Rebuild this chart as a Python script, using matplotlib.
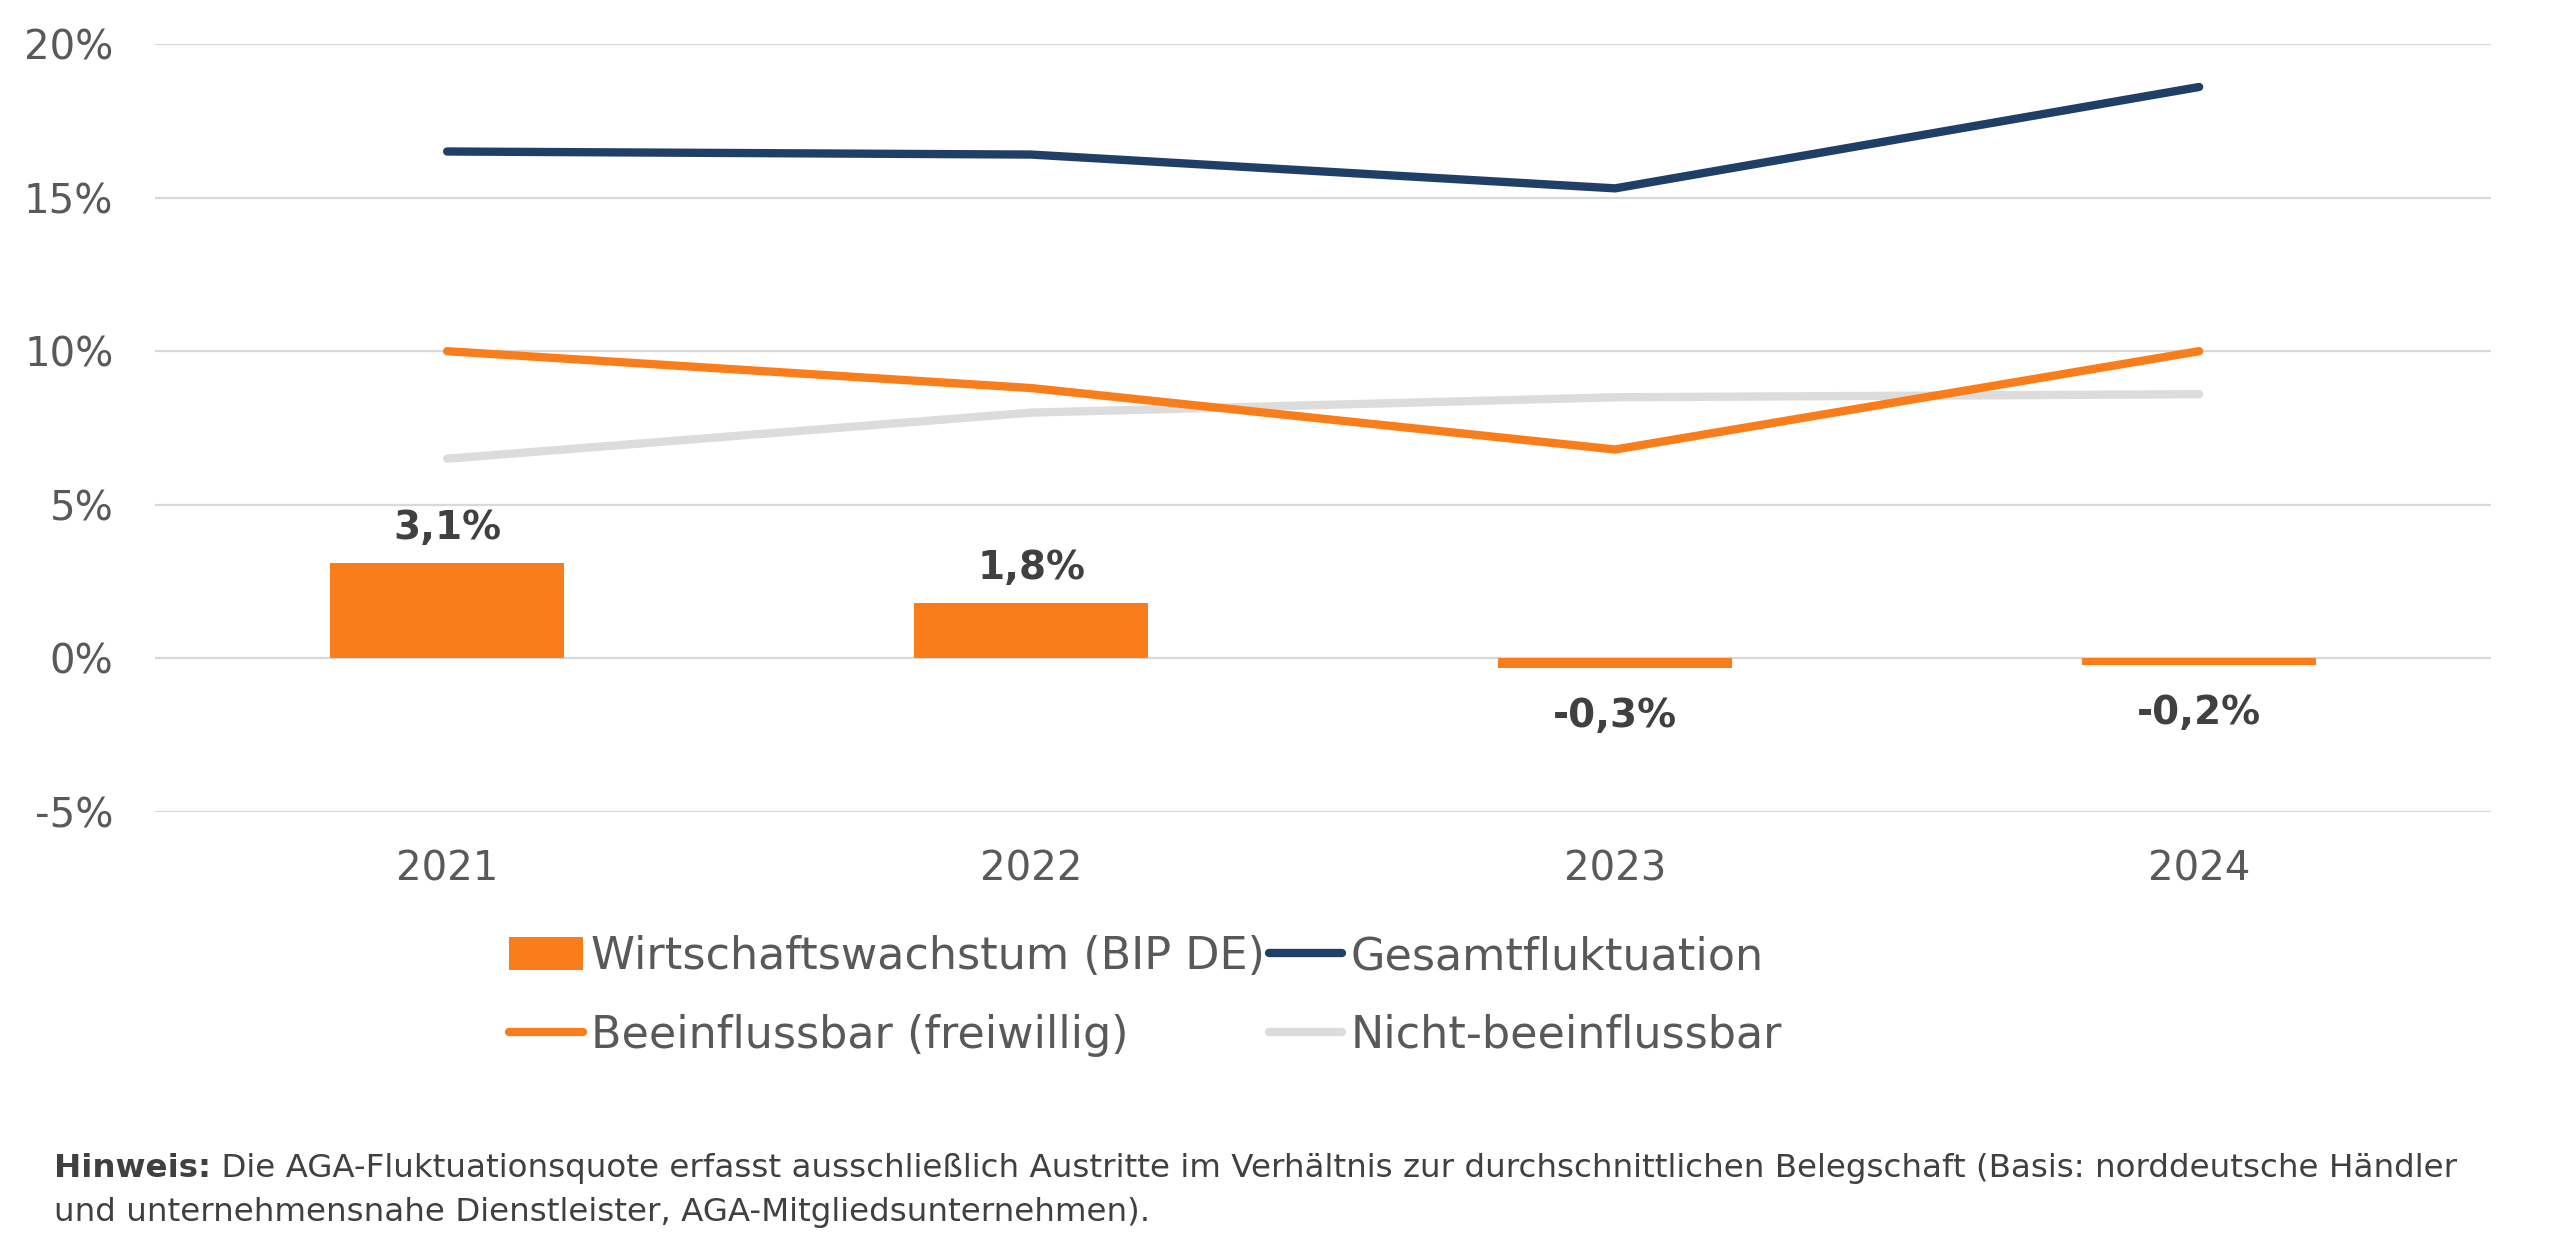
import matplotlib
matplotlib.use("Agg")
import matplotlib.pyplot as plt
from matplotlib.patches import Patch
from matplotlib.lines import Line2D

plt.rcParams['font.family'] = ['DejaVu Sans']

years = ["2021", "2022", "2023", "2024"]
bip = [3.1, 1.8, -0.3, -0.2]
bip_labels = ["3,1%", "1,8%", "-0,3%", "-0,2%"]
gesamt = [16.5, 16.4, 15.3, 18.6]
beeinflussbar = [10.0, 8.8, 6.8, 10.0]
nicht_beeinflussbar = [6.5, 8.0, 8.5, 8.6]
yticks = [-5, 0, 5, 10, 15, 20]
ytick_labels = ["-5%", "0%", "5%", "10%", "15%", "20%"]

orange = "#F97E1B"
blue = "#203F66"
grey = "#DCDCDC"
text_grey = "#595959"
dark = "#404040"

fig = plt.figure(figsize=(25.6, 12.42), dpi=100)
ax = fig.add_axes([0.0606, 0.3462, 0.9125, 0.6184])

x = list(range(len(years)))
ax.bar(x, bip, width=0.4, color=orange, zorder=2)
ax.plot(x, nicht_beeinflussbar, color=grey, lw=6, solid_capstyle='round', zorder=3)
ax.plot(x, beeinflussbar, color=orange, lw=6, solid_capstyle='round', zorder=4)
ax.plot(x, gesamt, color=blue, lw=6, solid_capstyle='round', zorder=5)

# bar value labels
for i in range(len(bip)):
    if bip[i] >= 0:
        off = 25
    else:
        off = -35
    ax.annotate(bip_labels[i], (x[i], bip[i]), xytext=(0, off), textcoords='offset points',
                ha='center', va='center', fontsize=28, fontweight='bold', color=dark)

ax.set_xlim(-0.5, 3.5)
ax.set_ylim(-5, 20)
ax.set_yticks(yticks)
ax.set_yticklabels(ytick_labels)
ax.set_xticks(x)
ax.set_xticklabels(years)
ax.tick_params(axis='y', length=0, pad=30, labelsize=29, labelcolor=text_grey)
ax.tick_params(axis='x', length=0, pad=27, labelsize=29, labelcolor=text_grey)
ax.grid(axis='y', color="#D9D9D9", lw=1.6, zorder=0)
ax.set_axisbelow(True)
for s in ax.spines.values():
    s.set_visible(False)

handles = [
    Patch(facecolor=orange, edgecolor='none', label="Wirtschaftswachstum (BIP DE)"),
    Line2D([0], [0], color=orange, lw=6, solid_capstyle='round', label="Beeinflussbar (freiwillig)"),
    Line2D([0], [0], color=blue, lw=6, solid_capstyle='round', label="Gesamtfluktuation"),
    Line2D([0], [0], color=grey, lw=6, solid_capstyle='round', label="Nicht-beeinflussbar"),
]
leg = fig.legend(handles=handles, ncol=2, loc='upper left', bbox_to_anchor=(0.199, 0.247),
                 frameon=False, fontsize=32, handlelength=1.65, handleheight=0.75,
                 handletextpad=0.18, columnspacing=0.1, labelspacing=0.8,
                 borderpad=0, borderaxespad=0)
for t in leg.get_texts():
    t.set_color(text_grey)

# footnote, bold "Hinweis:" followed by regular text
t1 = fig.text(0.0212, 0.0595, "Hinweis:", fontsize=23.4, fontweight='bold', color=dark, va='center')
fig.canvas.draw()
bb = t1.get_window_extent()
x2 = bb.x1 / fig.bbox.width
fig.text(x2, 0.0595, " Die AGA-Fluktuationsquote erfasst ausschließlich Austritte im Verhältnis zur durchschnittlichen Belegschaft (Basis: norddeutsche Händler",
         fontsize=23.4, color=dark, va='center')
fig.text(0.0212, 0.024, "und unternehmensnahe Dienstleister, AGA-Mitgliedsunternehmen).",
         fontsize=23.4, color=dark, va='center')

fig.savefig("out.png", dpi=100, facecolor='white')
